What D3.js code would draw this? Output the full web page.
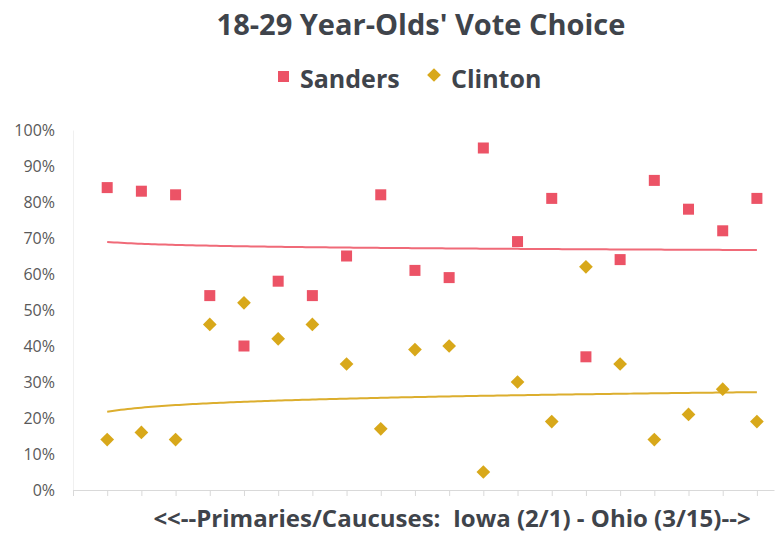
<!DOCTYPE html>
<html>
<head>
<meta charset="utf-8">
<script src="https://cdn.jsdelivr.net/npm/d3@7"></script>
<style>
  body { margin: 0; background: #fff; }
  text { font-family: "Open Sans", sans-serif; }
</style>
</head>
<body>
<div id="chart"></div>
<script>
// Contest order along the x axis (1 = Iowa ... 20 = Ohio)
var contests = d3.range(1, 21);

// Share of 18-29 year-old vote, percent
var sanders = [84, 83, 82, 54, 40, 58, 54, 65, 82, 61, 59, 95, 69, 81, 37, 64, 86, 78, 72, 81];
var clinton = [14, 16, 14, 46, 52, 42, 46, 35, 17, 39, 40, 5, 30, 19, 62, 35, 14, 21, 28, 19];

var yTicks = [0, 10, 20, 30, 40, 50, 60, 70, 80, 90, 100];

var seriesNames = ["Sanders", "Clinton"];

function init() {
    var w = 780;
    var h = 535;

    var colors = { Sanders: "#ec5366", Clinton: "#d8a81a" };
    var lineColors = { Sanders: "#f06a78", Clinton: "#dcae2e" };
    var diamond = d3.symbol(d3.symbolDiamond2, 120)();

    var svg = d3.select("#chart")
        .append("svg")
        .attr("width", w)
        .attr("height", h);

    var xScale = d3.scaleLinear()
        .domain([0, 20.5])
        .range([73, 774]);

    var yScale = d3.scaleLinear()
        .domain([0, 100])
        .range([490, 130]);

    // Title
    svg.append("text")
        .attr("x", 421)
        .attr("y", 35)
        .attr("text-anchor", "middle")
        .style("font-size", "29px")
        .style("font-weight", "bold")
        .style("fill", "#3f444b")
        .text("18-29 Year-Olds' Vote Choice");

    // Legend
    var legend = svg.append("g");
    legend.append("rect")
        .attr("x", 278).attr("y", 71)
        .attr("width", 11).attr("height", 11)
        .style("fill", colors.Sanders);
    legend.append("text")
        .attr("x", 300).attr("y", 88)
        .style("font-size", "25px")
        .style("font-weight", "bold")
        .style("fill", "#3f444b")
        .text("Sanders");
    legend.append("path")
        .attr("d", diamond)
        .attr("transform", "translate(434,75)")
        .style("fill", colors.Clinton);
    legend.append("text")
        .attr("x", 451).attr("y", 88)
        .style("font-size", "25px")
        .style("font-weight", "bold")
        .style("fill", "#3f444b")
        .text("Clinton");

    // Y axis
    var yAxis = d3.axisLeft(yScale)
        .tickValues(yTicks)
        .tickSize(0)
        .tickPadding(18)
        .tickFormat(function(d) { return d + "%"; });

    var yg = svg.append("g")
        .attr("transform", "translate(73,0)")
        .call(yAxis);
    yg.select(".domain").attr("stroke", "#f0f0f0");
    yg.selectAll("text")
        .style("font-size", "16px")
        .style("font-family", "'Open Sans', sans-serif")
        .style("fill", "#595959");

    // X axis (ticks, no labels)
    var xAxis = d3.axisBottom(xScale)
        .tickValues(d3.range(0, 21))
        .tickSize(6)
        .tickSizeOuter(0)
        .tickFormat("");

    var xg = svg.append("g")
        .attr("transform", "translate(0,490)")
        .call(xAxis);
    xg.select(".domain").attr("stroke", "#d9d9d9");
    xg.selectAll(".tick line").attr("stroke", "#d9d9d9");

    // X axis title
    svg.append("text")
        .attr("x", 452)
        .attr("y", 527)
        .attr("text-anchor", "middle")
        .style("font-size", "24px")
        .style("font-weight", "bold")
        .style("fill", "#3f444b")
        .style("white-space", "pre")
        .text("<<--Primaries/Caucuses:  Iowa (2/1) - Ohio (3/15)-->");

    // Power trendlines (least squares of ln y on ln x)
    function powerFit(values) {
        var lx = contests.map(function(x) { return Math.log(x); });
        var ly = values.map(function(v) { return Math.log(v); });
        var mx = d3.mean(lx), my = d3.mean(ly);
        var b = d3.sum(lx, function(v, i) { return (v - mx) * (ly[i] - my); }) /
                d3.sum(lx, function(v) { return (v - mx) * (v - mx); });
        var a = Math.exp(my - b * mx);
        return function(x) { return a * Math.pow(x, b); };
    }

    var data = { Sanders: sanders, Clinton: clinton };

    var line = d3.line()
        .x(function(d) { return xScale(d[0]); })
        .y(function(d) { return yScale(d[1]); });

    seriesNames.forEach(function(name) {
        var f = powerFit(data[name]);
        var pts = d3.range(1, 20.01, 0.1).map(function(x) { return [x, f(x)]; });
        svg.append("path")
            .datum(pts)
            .attr("d", line)
            .attr("fill", "none")
            .attr("stroke", lineColors[name])
            .attr("stroke-width", 2);
    });

    // Sanders squares
    svg.append("g").selectAll("rect")
        .data(sanders)
        .enter()
        .append("rect")
        .attr("x", function(d, i) { return xScale(contests[i]) - 5.5; })
        .attr("y", function(d) { return yScale(d) - 5.5; })
        .attr("width", 11)
        .attr("height", 11)
        .style("fill", colors.Sanders);

    // Clinton diamonds
    svg.append("g").selectAll("path")
        .data(clinton)
        .enter()
        .append("path")
        .attr("d", diamond)
        .attr("transform", function(d, i) {
            return "translate(" + xScale(contests[i]) + "," + yScale(d) + ")";
        })
        .style("fill", colors.Clinton);
}

window.onload = init;
</script>
</body>
</html>
